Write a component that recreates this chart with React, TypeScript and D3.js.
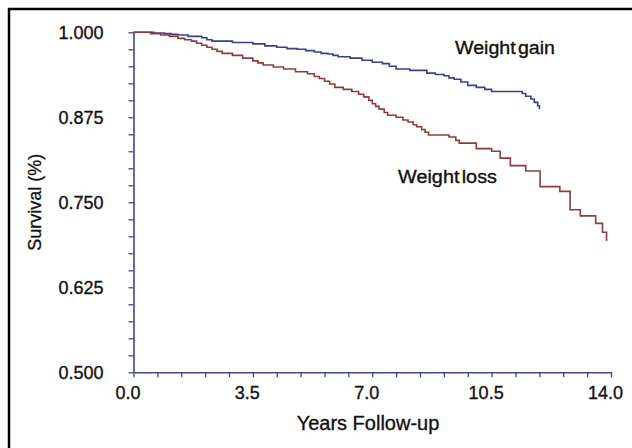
import React, { useEffect, useRef } from "react";
import * as d3 from "d3";

// Kaplan-Meier step events: (year, survival after the drop)
const gainYears = [0, 0.6, 0.9, 1.1, 1.3, 1.6, 2.0, 2.15, 2.3, 2.9, 3.5, 3.85, 4.2, 4.5, 4.8, 5.05, 5.3, 5.5, 5.7, 5.85, 6.0, 6.35, 6.7, 7.0, 7.3, 7.5, 7.7, 8.1, 8.6, 8.85, 9.1, 9.25, 9.4, 9.6, 9.8, 10.05, 10.3, 10.5, 11.4, 11.5, 11.65, 11.75, 11.85, 11.9];
const gainSurvival = [1.0, 0.999, 0.998, 0.997, 0.996, 0.994, 0.992, 0.989, 0.987, 0.985, 0.983, 0.98, 0.978, 0.976, 0.975, 0.973, 0.971, 0.969, 0.968, 0.966, 0.964, 0.962, 0.959, 0.956, 0.954, 0.95, 0.946, 0.944, 0.94, 0.938, 0.936, 0.933, 0.931, 0.927, 0.922, 0.919, 0.916, 0.913, 0.91, 0.906, 0.902, 0.897, 0.892, 0.887];

const lossYears = [0, 0.5, 0.8, 1.05, 1.3, 1.5, 1.7, 1.85, 2.0, 2.15, 2.3, 2.45, 2.6, 2.9, 3.2, 3.5, 3.65, 3.8, 4.1, 4.4, 4.75, 5.1, 5.3, 5.45, 5.6, 5.75, 5.9, 6.15, 6.4, 6.6, 6.75, 6.9, 7.0, 7.1, 7.2, 7.35, 7.45, 7.7, 7.9, 8.05, 8.2, 8.3, 8.45, 8.55, 8.65, 9.25, 9.45, 9.55, 10.05, 10.5, 10.75, 11.05, 11.5, 11.92, 12.5, 12.8, 13.1, 13.55, 13.75, 13.87];
const lossSurvival = [1.0, 0.998, 0.996, 0.994, 0.991, 0.989, 0.987, 0.984, 0.981, 0.978, 0.975, 0.972, 0.969, 0.966, 0.962, 0.958, 0.955, 0.952, 0.949, 0.946, 0.942, 0.939, 0.935, 0.932, 0.928, 0.924, 0.919, 0.916, 0.913, 0.909, 0.905, 0.9, 0.895, 0.891, 0.887, 0.882, 0.878, 0.875, 0.871, 0.868, 0.864, 0.861, 0.857, 0.853, 0.849, 0.846, 0.841, 0.837, 0.829, 0.825, 0.815, 0.804, 0.796, 0.773, 0.766, 0.739, 0.73, 0.719, 0.706, 0.693];

const xTickLabels = ["0.0", "3.5", "7.0", "10.5", "14.0"];
const yTickLabels = ["0.500", "0.625", "0.750", "0.875", "1.000"];
const seriesNames = ["Weight gain", "Weight loss"];

const axisColor = "#45458a";
const gainColor = "#3d3f8c";
const lossColor = "#8e3b3b";
const textColor = "#111";
const font = "'Liberation Sans', Arial, sans-serif";

export default function App() {
  const ref = useRef<SVGSVGElement | null>(null);

  useEffect(() => {
    const width = 632;
    const height = 448;
    const margin = { top: 32.3, right: 21, bottom: 75.7, left: 133.5 };

    const svg = d3.select(ref.current);
    svg.selectAll("*").remove();

    const xScale = d3.scaleLinear().domain([0, 14]).range([margin.left, width - margin.right]);
    const yScale = d3.scaleLinear().domain([0.5, 1]).range([height - margin.bottom, margin.top]);

    // frame (only top and left edges are visible in the crop)
    svg.append("path")
      .attr("d", `M9,${height} V9 H${width}`)
      .attr("fill", "none")
      .attr("stroke", "#000")
      .attr("stroke-width", 2.5);

    const xMajor = xTickLabels.map(Number);
    const yMajor = yTickLabels.map(Number);
    const xTicks = d3.range(0, 21).map(i => i * 0.7);
    const yTicks = d3.range(0, 21).map(i => 0.5 + i * 0.025);

    const xAxis = svg.append("g")
      .attr("transform", `translate(0,${yScale(0.5)})`)
      .call(
        d3.axisBottom(xScale)
          .tickValues(xTicks)
          .tickSize(5)
          .tickSizeOuter(0)
          .tickFormat(d => {
            const i = xMajor.findIndex(m => Math.abs(m - +d) < 1e-6);
            return i >= 0 ? xTickLabels[i] : "";
          })
      );

    const yAxis = svg.append("g")
      .attr("transform", `translate(${xScale(0)},0)`)
      .call(
        d3.axisLeft(yScale)
          .tickValues(yTicks)
          .tickSize(5)
          .tickSizeOuter(0)
          .tickFormat(d => {
            const i = yMajor.findIndex(m => Math.abs(m - +d) < 1e-6);
            return i >= 0 ? yTickLabels[i] : "";
          })
      );

    [xAxis, yAxis].forEach(ax => {
      ax.select(".domain").attr("stroke", axisColor).attr("stroke-width", 1.6);
      ax.selectAll(".tick line").attr("stroke", axisColor).attr("stroke-width", 1.3);
      ax.selectAll(".tick text")
        .attr("fill", textColor)
        .attr("stroke", textColor)
        .attr("stroke-width", 0.35)
        .style("font-family", font)
        .style("font-size", "18px");
    });
    xAxis.selectAll(".tick text").attr("dx", -6).attr("y", 14);
    yAxis.selectAll(".tick text").attr("x", -30);

    const line = d3.line<[number, number]>()
      .x(d => xScale(d[0]))
      .y(d => yScale(d[1]))
      .curve(d3.curveStepAfter);

    const gainData = gainYears.map((t, i) => [t, gainSurvival[i]] as [number, number]);
    const lossData = lossYears.map((t, i) => [t, lossSurvival[i]] as [number, number]);

    svg.append("path")
      .datum(gainData)
      .attr("d", line)
      .attr("fill", "none")
      .attr("stroke", gainColor)
      .attr("stroke-width", 1.6);

    svg.append("path")
      .datum(lossData)
      .attr("d", line)
      .attr("fill", "none")
      .attr("stroke", lossColor)
      .attr("stroke-width", 1.6);

    const label = (x: number, y: number, len: number, txt: string) =>
      svg.append("text")
        .attr("x", x)
        .attr("y", y)
        .attr("textLength", len)
        .attr("lengthAdjust", "spacingAndGlyphs")
        .style("font-family", font)
        .style("font-size", "18px")
        .style("word-spacing", "-3px")
        .attr("fill", textColor)
        .attr("stroke", textColor)
        .attr("stroke-width", 0.35)
        .text(txt);

    // series labels
    label(455, 54, 100, seriesNames[0]);
    label(398, 183, 99, seriesNames[1]);

    // axis titles
    svg.append("text")
      .attr("x", 368)
      .attr("y", 430)
      .attr("text-anchor", "middle")
      .style("font-family", font)
      .style("font-size", "20px")
      .attr("fill", textColor)
      .attr("stroke", textColor)
      .attr("stroke-width", 0.35)
      .text("Years Follow-up");

    svg.append("text")
      .attr("transform", `translate(41,${(yScale(0.5) + yScale(1)) / 2}) rotate(-90)`)
      .attr("text-anchor", "middle")
      .style("font-family", font)
      .style("font-size", "18px")
      .attr("fill", textColor)
      .attr("stroke", textColor)
      .attr("stroke-width", 0.3)
      .text("Survival (%)");
  }, []);

  return (
    <svg
      ref={ref}
      width={632}
      height={448}
      style={{ position: "absolute", left: 0, top: 0, background: "#fff" }}
    />
  );
}
